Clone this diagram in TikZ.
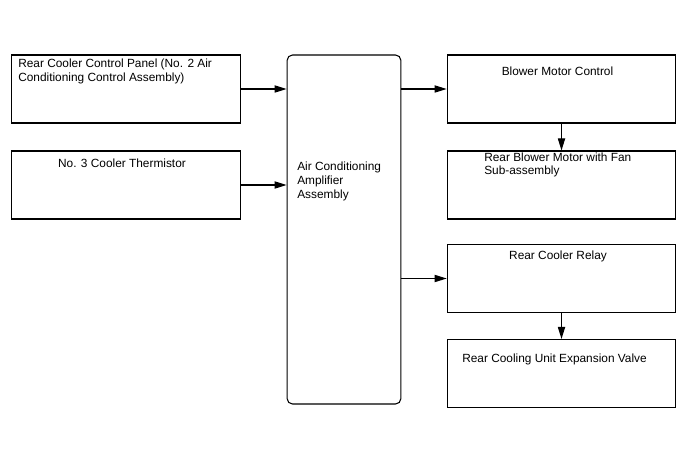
\documentclass[tikz,border=0pt]{standalone}
\usepackage{fontspec}
\setmainfont{Liberation Sans}
\usetikzlibrary{arrows.meta, calc}

\tikzset{
  unitbox/.style={draw, line width=0.8pt, inner sep=0pt,
    minimum width=171.5pt, minimum height=51pt},
  ampbox/.style={draw, line width=0.8pt, inner sep=0pt, rounded corners=4pt,
    minimum width=85.3pt, minimum height=261.75pt},
  lbl/.style={inner sep=0pt, font=\fontsize{8.9}{10.3}\selectfont},
  sig/.style={-{Triangle[length=9pt, width=5.4pt]}, line width=0.8pt}
}

\begin{document}
\begin{tikzpicture}[x=0.75pt, y=-0.75pt]
  \useasboundingbox (0,0) rectangle (688,463);
  % Input side
  \node[unitbox] (panel) at (126,89) {};
  \node[unitbox] (thermistor) at (126,185) {};
  \node[lbl, anchor=base west, align=left] (panel-txt) at (18,81.7)
    {Rear Cooler Control Panel (No. 2 Air\\Conditioning Control Assembly)};
  \node[lbl, anchor=base] (thermistor-txt) at (122,167.3) {No. 3 Cooler Thermistor};
  % Amplifier
  \node[ampbox] (amp) at (344,229.5) {};
  \node[lbl, anchor=base west, align=left] (amp-txt) at (297,198.3)
    {Air Conditioning\\Amplifier\\Assembly};
  % Output side
  \node[unitbox] (blowerctl) at (561.5,89) {};
  \node[unitbox] (blower) at (561.5,185) {};
  \node[unitbox] (relay) at (561.5,278.5) {};
  \node[unitbox] (valve) at (561.5,373.5) {};
  \node[lbl, anchor=base] (blowerctl-txt) at (557.5,76) {Blower Motor Control};
  \node[lbl, anchor=base west, align=left] (blower-txt) at (484,175)
    {Rear Blower Motor with Fan\\Sub-assembly};
  \node[lbl, anchor=base] (relay-txt) at (558,259.3) {Rear Cooler Relay};
  \node[lbl, anchor=base] (valve-txt) at (554.5,362.3) {Rear Cooling Unit Expansion Valve};
  % Signals
  \draw[sig] (panel.east) -- (panel.east -| amp.west);
  \draw[sig] (thermistor.east) -- (thermistor.east -| amp.west);
  \draw[sig] (blowerctl.west -| amp.east) -- (blowerctl.west);
  \draw[sig] (relay.west -| amp.east) -- (relay.west);
  \draw[sig] (blowerctl.south) -- (blower.north);
  \draw[sig] (relay.south) -- (valve.north);
\end{tikzpicture}
\end{document}
